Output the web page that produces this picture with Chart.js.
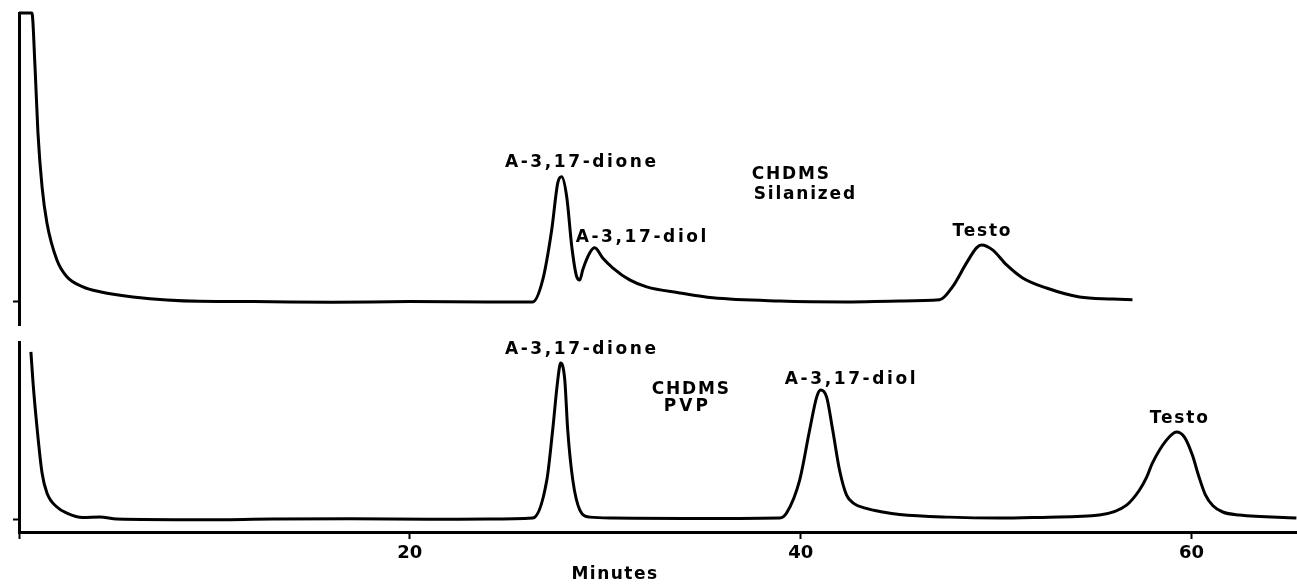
<!DOCTYPE html>
<html>
<head>
<meta charset="utf-8">
<script src="https://cdn.jsdelivr.net/npm/chart.js@4.4.0/dist/chart.umd.min.js"></script>
<style>
	html, body { margin: 0; padding: 0; background: #fff; }
	#wrap { position: relative; width: 1297px; height: 585px; }
	.panel { position: absolute; left: 0; width: 1297px; }
</style>
</head>
<body>
<div id="wrap">
	<div class="panel" style="top:0; height:330px;"><canvas id="upper"></canvas></div>
	<div class="panel" style="top:335px; height:250px;"><canvas id="lower"></canvas></div>
</div>
<script>
// upper trace: CHDMS, silanized support (minutes / detector response)
const silanizedMinutes = [0, 0.66, 0.82, 0.97, 1.18, 1.43, 1.94, 2.45, 3.27, 4.14, 5.83, 9.26,
	12, 16, 20, 24, 26.29, 26.80, 27.26, 27.57, 27.77, 28.03, 28.29, 28.54, 28.70, 28.85,
	29.21, 29.46, 29.87, 30.38, 31.25, 32.12, 33.81, 35.50, 38.93, 42.35, 45.1,
	47.11, 47.77, 48.49, 49.0, 49.26, 49.82, 50.54, 51.36, 52.58, 54.27, 55.96, 56.98];
const silanizedSignal = [100, 100, 81.3, 58.5, 39.8, 27.3, 14.5, 8.7, 5.2, 3.5, 1.7, 0.2,
	0.1, -0.1, 0.1, 0, 0, 7.6, 24.9, 41.2, 43.3, 36.3, 19.0, 8.7, 7.6, 11.1,
	17.0, 18.7, 15.2, 11.8, 7.6, 5.2, 3.1, 1.4, 0.3, 0, 0.3,
	0.7, 5.2, 13.5, 18.7, 19.7, 18.0, 12.8, 8.3, 4.8, 1.7, 1.0, 0.7];

// lower trace: CHDMS, PVP
const pvpMinutes = [0.61, 0.72, 0.92, 1.18, 1.43, 1.94, 2.45, 3.27, 4.14, 5.01,
	9.26, 13, 17, 21, 24, 26.29, 27.01, 27.31, 27.57, 27.72, 27.93, 28.08, 28.34, 28.70, 29.21,
	30.38, 34, 38.93, 39.28, 39.95, 40.46, 40.82, 41.02, 41.33, 41.64, 41.99, 42.35, 42.75, 43.3,
	44.2, 45.06, 47.6, 50.18, 52.7, 55.29, 56.68, 57.34, 57.7, 58.0, 58.72, 59.23, 59.64, 60.05,
	60.35, 60.7, 61.1, 61.6, 62.46, 65.37];
const pvpSignal = [94.4, 76.8, 52.0, 26.0, 14.7, 6.8, 3.4, 0.9, 1.2, 0,
	-0.4, 0, 0.2, -0.1, 0, 0.6, 22.0, 50.3, 78.5, 88.1, 78.5, 50.3, 22.0, 5.1, 1.1,
	0.6, 0.3, 0.6, 3.4, 22.0, 50.3, 68.9, 72.9, 68.9, 50.3, 27.7, 13.5, 8.6, 6.2,
	4.0, 2.6, 1.1, 0.6, 1.1, 2.3, 7.9, 16.4, 23.5, 31.6, 44.6, 49.2, 46.3, 36.0,
	25.0, 14.0, 7.5, 4.0, 2.3, 0.6];

const minuteTicks = [0, 20, 40, 60];
const minuteTickLabels = ['', '20', '40', '60'];
const axisTitle = 'Minutes';
const axisTitleMinute = 30.5;

// peak annotations, anchored in data units
const silanizedLabels = [
	{ text: 'A-3,17-dione', x: 28.8, y: 48.1, spacing: 2.6 },
	{ text: 'A-3,17-diol', x: 31.9, y: 22.1, spacing: 2.6 },
	{ text: 'CHDMS', x: 37.5, y: 43.9, align: 'left' },
	{ text: 'Silanized', x: 37.6, y: 37.0, align: 'left' },
	{ text: 'Testo', x: 49.3, y: 24.2 }
];
const pvpLabels = [
	{ text: 'A-3,17-dione', x: 28.8, y: 95.5, spacing: 2.6 },
	{ text: 'CHDMS', x: 34.4, y: 72.9 },
	{ text: 'PVP', x: 34.2, y: 63.3, spacing: 3 },
	{ text: 'A-3,17-diol', x: 42.6, y: 78.5, spacing: 2.6 },
	{ text: 'Testo', x: 59.4, y: 56.5 }
];

const FONT = '"DejaVu Sans", sans-serif';
const X_MAX = 65.4;

function zip(xs, ys)
{
	return xs.map((x, i) => ({ x: x, y: ys[i] }));
}

function label_plugin(items, drawTitle)
{
	return {
		id: 'peakLabels',
		afterDatasetsDraw(chart) {
			const ctx = chart.ctx;
			const xs = chart.scales.x, ys = chart.scales.y;
			ctx.save();
			ctx.fillStyle = '#000';
			ctx.font = 'bold 17px ' + FONT;
			ctx.textBaseline = 'middle';
			items.forEach(it => {
				ctx.letterSpacing = (it.spacing || 1.8) + 'px';
				ctx.textAlign = it.align || 'center';
				ctx.fillText(it.text, xs.getPixelForValue(it.x), ys.getPixelForValue(it.y));
			});
			if(drawTitle) {
				ctx.letterSpacing = '1.5px';
				ctx.textAlign = 'center';
				ctx.fillText(axisTitle, xs.getPixelForValue(axisTitleMinute), xs.top + 43);
			}
			ctx.restore();
		}
	};
}

function y_axis(min)
{
	return {
		type: 'linear',
		min: min,
		max: 100,
		afterBuildTicks: (scale) => { scale.ticks = [{ value: 0 }]; },
		afterFit: (scale) => { scale.width = 19; },
		ticks: { display: false },
		grid: { display: true, drawOnChartArea: false, drawTicks: true, tickLength: 6, tickColor: '#000', tickWidth: 2 },
		border: { display: true, color: '#000', width: 3 }
	};
}

function trace_dataset(points)
{
	return {
		data: points,
		borderColor: '#000',
		borderWidth: 3,
		pointRadius: 0,
		cubicInterpolationMode: 'monotone',
		clip: 6,
		fill: false
	};
}

const baseOptions = {
	responsive: true,
	maintainAspectRatio: false,
	animation: false,
	events: [],
	plugins: { legend: { display: false }, tooltip: { enabled: false } }
};

new Chart('upper', {
	type: 'line',
	data: { datasets: [trace_dataset(zip(silanizedMinutes, silanizedSignal))] },
	options: Object.assign({}, baseOptions, {
		layout: { padding: { top: 13, bottom: 5, left: 0, right: 0 } },
		scales: {
			x: { type: 'linear', min: 0, max: X_MAX, display: false },
			y: y_axis(-8)
		}
	}),
	plugins: [label_plugin(silanizedLabels, false)]
});

new Chart('lower', {
	type: 'line',
	data: { datasets: [trace_dataset(zip(pvpMinutes, pvpSignal))] },
	options: Object.assign({}, baseOptions, {
		layout: { padding: { top: 7, bottom: 0, left: 0, right: 0 } },
		scales: {
			x: {
				type: 'linear',
				min: 0,
				max: X_MAX,
				afterBuildTicks: (scale) => { scale.ticks = minuteTicks.map(v => ({ value: v })); },
				afterFit: (scale) => { scale.height = 53; },
				ticks: {
					color: '#000',
					padding: 4,
					maxRotation: 0,
					font: { family: FONT, size: 18, weight: 'bold' },
					callback: (value) => minuteTickLabels[minuteTicks.indexOf(value)]
				},
				grid: { display: true, drawOnChartArea: false, drawTicks: true, tickLength: 7, tickColor: '#000', tickWidth: 2 },
				border: { display: true, color: '#000', width: 3 }
			},
			y: y_axis(-7.3)
		}
	}),
	plugins: [label_plugin(pvpLabels, true)]
});
</script>
</body>
</html>
